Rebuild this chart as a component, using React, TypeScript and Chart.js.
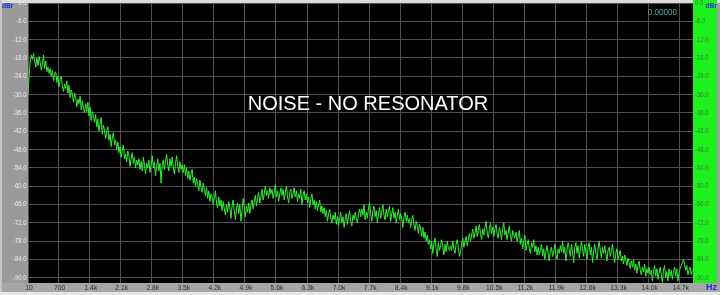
import React, { useEffect, useRef } from "react";
import { Chart, registerables } from "chart.js";

Chart.register(...registerables);

// FFT bins: first bin frequency and bin spacing (Hz)
const FREQ_START = 10;
const FREQ_STEP = 25;

// Noise level per bin (dBr)
const LEVELS_DB = [
  -30, -24, -19, -17, -18.5, -16.5, -19, -21, -18, -20.5, -17.5, -19.5, -22, -20, -17, -21.5, -19, -22.5, -21, -23,
  -21.5, -24, -22, -25.5, -23, -22.5, -26, -24, -27.5, -25, -24, -27, -29, -26.5, -28, -25.5, -29.5, -27, -31, -28.5,
  -30, -32.5, -29.5, -31, -34, -31.5, -33, -30.5, -35, -32, -34.5, -36, -33, -35.5, -32.5, -37, -34, -38.5, -35.5, -37,
  -39, -36.5, -40.5, -38, -42, -39.5, -37.5, -43, -40, -41.5, -44.5, -42, -40.5, -45, -43, -47, -44, -42.5, -46.5, -45,
  -48, -45.5, -49, -47, -50.5, -48, -46.5, -51, -49.5, -52, -48.5, -50, -53.5, -51, -49, -52.5, -50.5, -54, -51.5, -53,
  -51, -54.5, -52, -55, -50.5, -53, -56, -52.5, -54, -51.5, -55.5, -53, -50, -54, -52, -56.5, -53.5, -51, -55, -52.5,
  -59, -53, -51.5, -54.5, -52, -49.5, -53, -55, -51, -53.5, -50.5, -54, -56, -52.5, -50, -53.5, -55.5, -52, -54.5, -53,
  -55.5, -53, -56.5, -54, -57.5, -55, -58, -56, -54.5, -59, -57, -60, -57.5, -59.5, -61.5, -58, -60.5, -62, -59, -61,
  -63, -60.5, -64, -61.5, -65, -62.5, -63.5, -66, -64, -61.5, -65.5, -67, -63.5, -66.5, -64.5, -68, -65, -67.5, -69.5, -66,
  -68.5, -65, -67, -70.5, -66.5, -64.5, -68, -71, -67.5, -65.5, -69, -66, -71.5, -68, -64, -67, -70, -66.5, -68.5, -65.5,
  -69, -66, -64.5, -67.5, -65, -63, -66.5, -64, -62, -65.5, -63.5, -61, -64.5, -62.5, -60, -63, -61.5, -64, -60.5, -62.5,
  -61, -64, -62, -59.5, -63.5, -61.5, -65, -62.5, -60.5, -63, -61, -64.5, -62, -60, -63.5, -65.5, -62, -61, -64, -62.5,
  -60.5, -63.5, -61.5, -65, -62.5, -64, -61, -66, -63, -61.5, -64.5, -62.5, -65.5, -63.5, -67, -64, -62.5, -66, -64.5, -67.5,
  -65, -68, -66, -64.5, -68.5, -66.5, -69, -67, -70, -68, -71.5, -69, -67.5, -70.5, -72, -69.5, -71, -68.5, -72.5, -70,
  -73, -70.5, -68.5, -72, -70, -73.5, -71, -69, -72.5, -70, -68, -71.5, -73, -69.5, -71, -68.5, -70.5, -72, -69, -67.5,
  -70, -67.5, -69.5, -66, -71, -68.5, -70.5, -67, -65.5, -69, -71.5, -68, -66.5, -70, -68, -72, -69, -67, -70.5, -68.5,
  -66, -69.5, -71, -67.5, -70, -68, -66.5, -71.5, -69, -67, -70.5, -68.5, -72, -69.5, -67.5, -71, -69, -70.5, -73.5, -70,
  -68.5, -71.5, -69.5, -72, -70.5, -73.5, -71, -69.5, -72.5, -74.5, -71.5, -73, -75.5, -72.5, -74, -76.5, -73.5, -77, -75, -78,
  -76, -79, -77.5, -80.5, -78, -82, -79, -77, -80.5, -83, -78.5, -81, -79.5, -77.5, -80, -82.5, -79, -81.5, -78, -80,
  -81, -79.5, -81, -78, -80.5, -82, -79, -77.5, -80, -83, -81.5, -79, -77, -80, -78, -76.5, -79.5, -77.5, -75.5, -78,
  -76, -74, -77, -75.5, -73, -76.5, -74.5, -72.5, -75.5, -77.5, -74, -76, -73.5, -71.5, -75, -77, -74.5, -72, -75.5, -73.5,
  -76.5, -74, -72.5, -75.5, -77, -73.5, -75, -77.5, -74, -72, -76, -74.5, -77.5, -75, -73, -76.5, -78, -74.5, -76, -77,
  -75, -78, -76.5, -74.5, -79, -77, -80.5, -78, -76, -81, -79, -77.5, -80.5, -82, -78.5, -80, -77.5, -81.5, -79.5, -82.5,
  -80, -82.5, -81, -79, -83, -80.5, -84, -81.5, -79.5, -82, -84.5, -81, -80, -83, -81.5, -79, -82.5, -84, -80.5, -82,
  -79.5, -81.5, -78, -82, -80, -84.5, -81, -78.5, -80.5, -83, -79, -81.5, -85, -80, -78.5, -82, -79.5, -83.5, -81, -78,
  -80.5, -83, -79, -81.5, -84, -80, -78.5, -82.5, -80, -85, -81.5, -79, -82, -84, -80.5, -78, -81, -83.5, -80, -82,
  -79.5, -82, -84.5, -81, -80, -83, -81.5, -79, -82.5, -85, -82, -80.5, -84, -82.5, -81, -84.5, -83, -85.5, -82.5, -84,
  -86, -83.5, -85, -87, -84.5, -86.5, -84, -87.5, -85.5, -88.5, -86, -84.5, -87.5, -89, -86.5, -88, -85.5, -89.5, -87, -88.5,
  -86.5, -89, -87.5, -91, -88, -86, -89.5, -87, -90.5, -88.5, -86.5, -89, -91.5, -87.5, -86, -90, -88, -91, -87, -89.5,
  -87.5, -90.5, -88, -86.5, -89.5, -87, -91, -88.5, -87, -86, -85, -84, -85.5, -87.5, -86, -89, -87.5, -86.5, -89, -87.5,
];

const X_MIN = 10;
const X_MAX = 15000;
const Y_MIN = -91.7;
const Y_MAX = 0;

const X_TICKS = [10, 700, 1400, 2100, 2800, 3500, 4200, 4900, 5600, 6300, 7000, 7700, 8400, 9100, 9800, 10500, 11200, 11900, 12600, 13300, 14000, 14700];
const X_TICK_LABELS = ["10", "700", "1.4k", "2.1k", "2.8k", "3.5k", "4.2k", "4.9k", "5.6k", "6.3k", "7.0k", "7.7k", "8.4k", "9.1k", "9.8k", "10.5k", "11.2k", "11.9k", "12.6k", "13.3k", "14.0k", "14.7k"];
const Y_TICKS = [0, -6, -12, -18, -24, -30, -36, -42, -48, -54, -60, -66, -72, -78, -84, -90];
const Y_TICK_LABELS = ["0.0", "-6.0", "-12.0", "-18.0", "-24.0", "-30.0", "-36.0", "-42.0", "-48.0", "-54.0", "-60.0", "-66.0", "-72.0", "-78.0", "-84.0", "-90.0"];

const TITLE = "NOISE - NO RESONATOR";
const READOUT = "0.00000";
const Y_UNIT = "dBr";
const X_UNIT = "Hz";

const W = 720;
const H = 295;

const panelPlugin = {
  id: "apPanels",
  beforeDraw(chart: any) {
    const { ctx, chartArea } = chart;
    const { left, right, top, bottom } = chartArea;
    ctx.save();
    ctx.fillStyle = "#a2a2a2";
    ctx.fillRect(0, 0, W, H);
    ctx.fillStyle = "#dcdcdc";
    ctx.fillRect(0, 0, W, top);
    ctx.fillStyle = "#c4c4c4";
    ctx.fillRect(0, 0, 2, H);
    ctx.fillStyle = "#9a9a9a";
    ctx.fillRect(2, top, left - 2, bottom - top);
    ctx.fillStyle = "#a6a6a6";
    ctx.fillRect(2, bottom, W - 2, 9);
    ctx.fillStyle = "#e6e6e6";
    ctx.fillRect(0, bottom + 9, W, H - bottom - 9);
    ctx.fillStyle = "#1ef01e";
    ctx.fillRect(right, 0, 24, bottom);
    ctx.fillStyle = "#000000";
    ctx.fillRect(left, top, right - left, bottom - top);
    ctx.restore();
  },
  afterDraw(chart: any) {
    const { ctx, chartArea, scales } = chart;
    const { left, right, top, bottom } = chartArea;
    const xs = scales.x;
    const ys = scales.y;
    ctx.save();
    const drawNarrow = (text: string, x: number, y: number, align: string, sx: number) => {
      ctx.save();
      ctx.translate(x, y);
      ctx.scale(sx, 1);
      ctx.textAlign = align;
      ctx.fillText(text, 0, 0);
      ctx.restore();
    };
    ctx.textBaseline = "middle";
    ctx.font = "7px 'Liberation Sans', Arial, sans-serif";
    ctx.fillStyle = "#ededed";
    Y_TICKS.forEach((v, i) => {
      drawNarrow(Y_TICK_LABELS[i], left - 1.5, ys.getPixelForValue(v), "right", 0.85);
    });
    ctx.fillStyle = "#3a7a3a";
    Y_TICKS.forEach((v, i) => {
      drawNarrow(Y_TICK_LABELS[i], right + 2, ys.getPixelForValue(v), "left", 0.85);
    });
    ctx.font = "7.5px 'Liberation Sans', Arial, sans-serif";
    ctx.fillStyle = "#2c2c2c";
    X_TICKS.forEach((v, i) => {
      drawNarrow(X_TICK_LABELS[i], xs.getPixelForValue(v) + 1, bottom + 5, "center", 0.9);
    });
    ctx.font = "bold 7px 'Liberation Sans', Arial, sans-serif";
    ctx.fillStyle = "#1c2ee0";
    drawNarrow(Y_UNIT, 2, 6, "left", 0.95);
    drawNarrow(Y_UNIT, W - 3, 6, "right", 0.95);
    ctx.font = "bold 9px 'Liberation Sans', Arial, sans-serif";
    drawNarrow(X_UNIT, W - 3, bottom + 5, "right", 1);
    ctx.font = "8.5px 'Liberation Sans', Arial, sans-serif";
    ctx.fillStyle = "#4fb0b0";
    drawNarrow(READOUT, right - 16, top + 10, "right", 0.95);
    ctx.font = "20px 'Liberation Sans', Arial, sans-serif";
    ctx.fillStyle = "#ffffff";
    ctx.textAlign = "center";
    ctx.fillText(TITLE, (left + right) / 2 + 7.5, top + 101);
    ctx.restore();
  },
};

export default function App() {
  const canvasRef = useRef<HTMLCanvasElement | null>(null);

  useEffect(() => {
    const canvas = canvasRef.current;
    if (!canvas) return;
    const points = LEVELS_DB.map((db, i) => ({ x: FREQ_START + i * FREQ_STEP, y: db }));
    const chart = new Chart(canvas, {
      type: "line",
      data: {
        datasets: [
          {
            data: points,
            borderColor: "#2ff02f",
            borderWidth: 1,
            pointRadius: 0,
            tension: 0,
            fill: false,
          },
        ],
      },
      options: {
        animation: false,
        responsive: false,
        devicePixelRatio: 1,
        layout: { padding: { top: 3, left: 0, right: 0, bottom: 0 } },
        plugins: { legend: { display: false }, tooltip: { enabled: false }, title: { display: false } },
        scales: {
          x: {
            type: "linear",
            min: X_MIN,
            max: X_MAX,
            afterBuildTicks: (s: any) => {
              s.ticks = X_TICKS.map((v) => ({ value: v }));
            },
            afterFit: (s: any) => {
              s.height = 12;
            },
            ticks: { display: false },
            grid: { color: "#505050", lineWidth: 1, drawTicks: false },
            border: { display: false },
          },
          y: {
            type: "linear",
            position: "left",
            min: Y_MIN,
            max: Y_MAX,
            afterBuildTicks: (s: any) => {
              s.ticks = Y_TICKS.map((v) => ({ value: v }));
            },
            afterFit: (s: any) => {
              s.width = 28;
            },
            ticks: { display: false },
            grid: { color: "#505050", lineWidth: 1, drawTicks: false },
            border: { display: false },
          },
          y2: {
            type: "linear",
            position: "right",
            min: Y_MIN,
            max: Y_MAX,
            afterFit: (s: any) => {
              s.width = 27;
            },
            ticks: { display: false },
            grid: { display: false, drawTicks: false },
            border: { display: false },
          },
        },
      } as any,
      plugins: [panelPlugin],
    });
    return () => chart.destroy();
  }, []);

  return (
    <div style={{ position: "fixed", left: 0, top: 0, width: W, height: H }}>
      <canvas ref={canvasRef} width={W} height={H} style={{ display: "block", width: W, height: H }} />
    </div>
  );
}
